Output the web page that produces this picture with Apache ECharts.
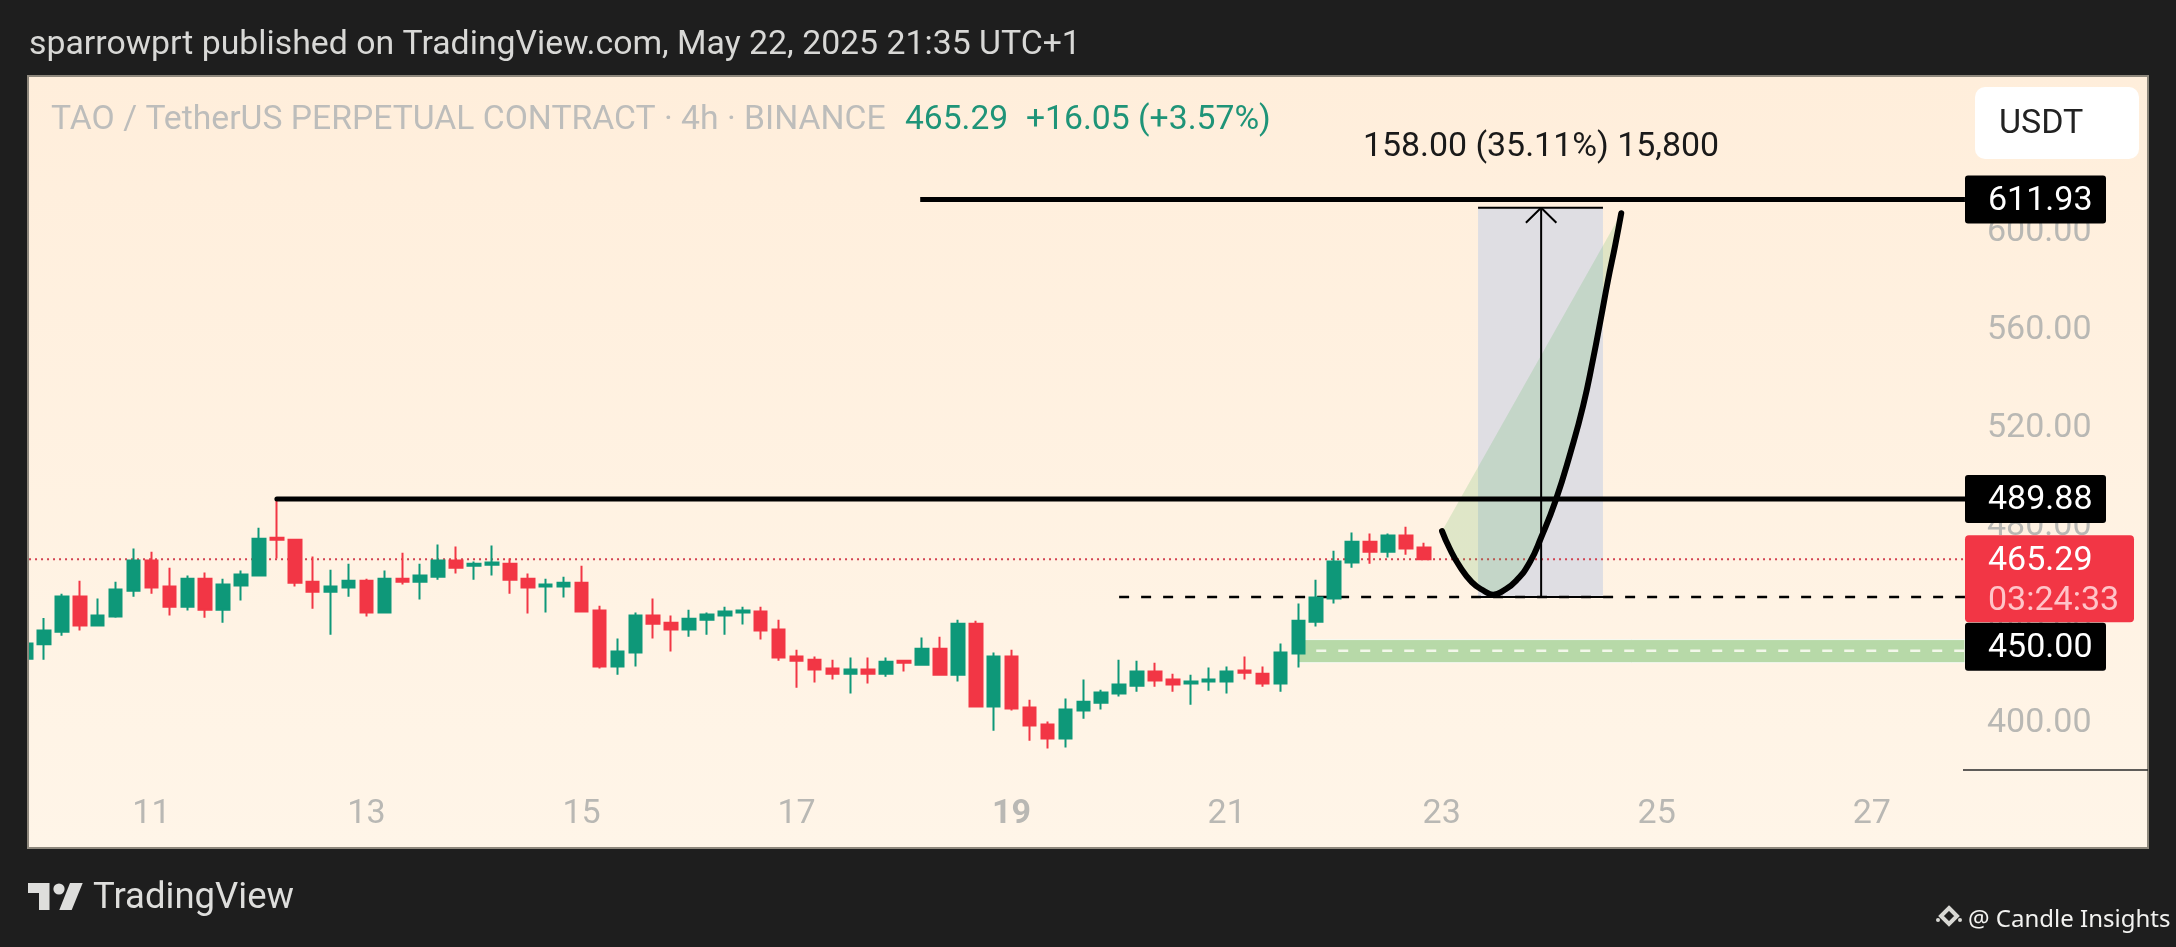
<!DOCTYPE html>
<html><head><meta charset="utf-8">
<style>html,body{margin:0;padding:0;background:#1e1e1e}#c{width:2176px;height:947px}</style>
<script src="https://cdn.jsdelivr.net/npm/echarts@6/dist/echarts.min.js"></script>
</head><body><div id="c"></div>
<script>
var opens=[424.8,430.7,435.8,450.2,438.3,442.0,452.5,464.8,454.2,446.0,457.4,444.8,454.6,458.7,474.1,473.3,456.2,452.1,453.8,456.6,443.6,457.4,456.2,458.2,464.8,462.7,463.1,463.5,457.4,454.2,454.2,455.8,444.4,421.6,427.3,442.4,439.5,436.7,440.7,442.4,443.6,444.0,436.7,425.7,424.4,420.8,418.7,420.4,418.7,424.0,422.4,428.9,418.3,439.1,405.3,425.7,404.9,398.0,392.3,403.7,406.9,410.6,413.8,419.6,416.3,414.7,415.5,415.5,420.0,418.7,414.7,426.9,439.9,449.3,464.0,472.5,468.4,475.0,470.1];
var closes=[431.0,436.3,450.2,438.3,442.4,453.0,464.8,453.8,446.0,457.4,444.8,455.0,459.1,473.7,473.3,455.8,452.1,454.2,456.6,443.6,457.4,456.2,458.7,464.8,461.9,463.5,464.0,457.0,453.8,455.0,455.8,444.0,421.6,427.7,442.4,439.1,436.7,441.1,442.8,444.0,444.4,436.3,425.3,424.0,420.4,418.7,420.4,418.7,423.6,423.2,428.9,418.3,439.1,405.3,425.7,404.5,397.6,392.3,404.1,407.3,411.0,414.3,419.6,415.9,414.3,415.5,416.3,419.6,419.1,414.7,427.3,440.3,449.7,464.4,472.5,468.4,475.0,469.7,465.29];
var lows=[424.8,424.4,434.2,436.3,438.3,441.5,450.1,451.3,442.4,444.4,441.5,439.5,448.5,458.7,465.6,454.2,445.2,434.6,450.1,442.0,443.2,455.0,448.9,457.0,459.5,457.0,458.7,451.3,443.2,443.6,449.7,444.0,420.8,418.3,421.6,433.0,427.7,433.8,434.6,434.6,438.7,432.6,424.0,413.0,415.1,416.3,410.6,414.7,417.5,419.6,422.4,418.3,415.5,405.3,395.5,403.7,391.4,388.2,388.6,400.4,404.1,409.4,411.4,413.4,411.4,406.1,411.8,410.6,416.3,413.4,411.4,421.2,437.9,447.3,461.9,463.5,466.0,467.2,465.29];
var highs=[431.0,441.4,451.3,456.6,449.3,456.2,469.7,468.4,461.9,458.7,459.9,457.4,460.7,478.2,490.0,473.7,466.4,461.1,463.5,457.4,460.7,468.0,463.5,471.3,470.5,464.4,470.9,465.6,459.5,457.4,458.2,462.7,446.4,433.0,443.6,449.3,442.4,444.8,443.6,446.0,446.0,446.0,440.7,428.5,425.7,424.4,425.3,425.3,425.3,424.4,433.4,433.8,440.7,440.3,427.3,428.5,408.1,399.2,408.6,416.3,412.2,424.4,424.0,423.2,418.7,418.3,421.2,421.6,425.7,421.6,431.0,447.3,457.0,468.8,476.2,475.8,475.8,478.6,472.1];
var dayLabels=['11','13','15','17','19','21','23','25','27'];
var priceTicks=[400,440,480,520,560,600];
var curveX=[79.02,79.44,79.99,80.68,81.37,81.87,82.48,83.17,83.91,84.55,85.37,86.2,86.9,87.45,87.87,88.28,88.69,89.02];
var curveY=[476.8,469.8,462.6,456.0,452.4,450.9,452.7,456.7,464.0,474.2,489.5,509.1,528.0,546.9,562.9,578.9,593.5,606.3];
var lastPrice=465.29, resistHigh=611.93, resistMid=489.88, entry=450, target=608.5, zoneTop=432.6, zoneBottom=423.2, zoneMid=428.1, zoneTagPrice=429.7;
var tagTexts=['611.93','489.88','450.00'];

var BAND=17.92, GRID_LEFT=17.04, BANDS=119;
var categories=[];
for(var i=0;i<BANDS;i++){categories.push('');}
dayLabels.forEach(function(d,k){categories[7+12*k]=d;});
var candles=opens.map(function(o,i){return [o,closes[i],lows[i],highs[i]];});
var curve=curveX.map(function(x,i){return [x,curveY[i]];});
var XR=108.2;
function seg(pts,color,width,type,z,cap){
  return {type:'line',xAxisIndex:1,yAxisIndex:0,data:pts,symbol:'none',silent:true,animation:false,z:z,clip:true,
    lineStyle:{color:color,width:width,type:type||'solid',cap:cap||'butt'}};
}
function polygonSeries(pts,fill,z,stroke){
  return {type:'custom',xAxisIndex:1,yAxisIndex:0,z:z,silent:true,animation:false,data:[0],
    encode:{x:[],y:[]},
    renderItem:function(p,api){
      return {type:'polygon',shape:{points:pts.map(function(q){return api.coord(q);})},
        style:{fill:fill,stroke:stroke||null,lineWidth:stroke?1:0}};
    }};
}
function tagSeries(){
  var tags=[{v:resistHigh,t:tagTexts[0]},{v:resistMid,t:tagTexts[1]},{v:zoneTagPrice,t:tagTexts[2]}];
  return {type:'custom',xAxisIndex:1,yAxisIndex:0,z:60,silent:true,animation:false,clip:false,data:tags.map(function(t,i){return i;}),
    encode:{x:[],y:[]},
    renderItem:function(p,api){
      var t=tags[api.value(0)];
      var c=api.coord([XR,t.v]);
      return {type:'group',children:[
        {type:'rect',shape:{x:1965,y:c[1]-24,width:141,height:48,r:3},style:{fill:'#000'}},
        {type:'text',style:{x:1988,y:c[1]+2,text:t.t,fill:'#fff',font:'34px Roboto',verticalAlign:'middle',align:'left'}}
      ]};
    }};
}
function lastTag(){
  return {type:'custom',xAxisIndex:1,yAxisIndex:0,z:59,silent:true,animation:false,clip:false,data:[0],
    encode:{x:[],y:[]},
    renderItem:function(p,api){
      var c=api.coord([XR,lastPrice]);
      return {type:'group',children:[
        {type:'rect',shape:{x:1965,y:c[1]-24,width:169,height:87,r:4},style:{fill:'#F23645'}},
        {type:'text',style:{x:1988,y:c[1]+2,text:lastPrice.toFixed(2),fill:'#fff',font:'34px Roboto',verticalAlign:'middle',align:'left'}},
        {type:'text',style:{x:1988,y:c[1]+42,text:'03:24:33',fill:'#FFC4C8',font:'34px Roboto',verticalAlign:'middle',align:'left'}}
      ]};
    }};
}
var chart=echarts.init(document.getElementById('c'),null,{renderer:'canvas'});
var txt='Roboto';
chart.setOption({
  animation:false,
  backgroundColor:'#1e1e1e',
  grid:{left:GRID_LEFT,top:75.5,width:BAND*BANDS,height:772,containLabel:false},
  xAxis:[{type:'category',data:categories,boundaryGap:true,axisLine:{show:false},axisTick:{show:false},splitLine:{show:false},
      axisLabel:{show:true,interval:0,inside:true,margin:16,color:'#B9B8B4',fontFamily:txt,fontSize:34,
        formatter:function(v){return v==='19'?'{b|19}':v;},rich:{b:{fontWeight:'bold',fontSize:34,color:'#B9B8B4',fontFamily:txt}}}},
    {type:'value',show:false,min:-0.5,max:BANDS-0.5}],
  yAxis:{type:'value',position:'right',min:347.9,max:662.4,splitLine:{show:false},axisLine:{show:false},axisTick:{show:false},
    axisLabel:{inside:true,margin:58,color:'#B9B8B4',fontFamily:txt,fontSize:34,align:'right',customValues:priceTicks,
      formatter:function(v){return '{p|'+v.toFixed(2)+'}';},
      rich:{p:{color:'#B9B8B4',fontFamily:txt,fontSize:34,padding:[7,0,0,0]}}}},
  series:[
    polygonSeries([[71,zoneBottom],[XR,zoneBottom],[XR,zoneTop],[71,zoneTop]],'#B7D9A8',3,'rgba(255,255,255,0.8)'),
    seg([[72,zoneMid],[XR,zoneMid]],'#F3F7EA',2.5,[10,12],4),
    polygonSeries([[81.03,entry],[88,entry],[88,target],[81.03,target]],'#DFDEE3',3),
    seg([[-0.5,lastPrice],[XR,lastPrice]],'#D2404F',2,[2,4],4),
    seg([[61,entry],[XR,entry]],'#000',2.5,[10,12],5),
    {type:'candlestick',xAxisIndex:0,yAxisIndex:0,data:candles,barWidth:13,z:10,silent:true,animation:false,
      itemStyle:{color:'#0E9879',color0:'#F23645',borderColor:'#0E9879',borderColor0:'#F23645',borderWidth:2}},
    polygonSeries(curve,'rgba(76,175,80,0.18)',12),
    seg([[49.9,resistHigh],[XR,resistHigh]],'#000',5,'solid',14),
    seg([[14,resistMid],[XR,resistMid]],'#000',5,'solid',14,'round'),
    seg([[80.7,entry],[88.5,entry]],'#000',2,'solid',15),
    seg([[81.03,target],[88,target]],'#000',2,'solid',15),
    seg([[84.55,entry],[84.55,target]],'#000',2,'solid',15),
    seg([[83.7,target-6.1],[84.55,target],[85.4,target-6.1]],'#000',2,'solid',15),
    Object.assign(seg(curve,'#000',6,'solid',16,'round'),{smooth:true,clip:false}),
    lastTag(),
    tagSeries()
  ],
  graphic:[
    {type:'rect',z:-10,silent:true,shape:{x:28,y:76,width:2120,height:772},
      style:{stroke:'#8d877c',lineWidth:2,fill:{type:'linear',x:0,y:0,x2:0,y2:1,colorStops:[{offset:0,color:'#FFEEDB'},{offset:1,color:'#FFF5E8'}]}}},
    {type:'rect',z:30,silent:true,shape:{x:0,y:70,width:27,height:785},style:{fill:'#1e1e1e'}},
    {type:'rect',z:30,silent:true,shape:{x:27,y:76,width:2,height:772},style:{fill:'#8d877c'}},
    {type:'line',z:30,silent:true,shape:{x1:1963,y1:770,x2:2148,y2:770},style:{stroke:'#2a2a2a',lineWidth:1.5}},
    {type:'text',z:40,silent:true,style:{x:29,y:46,text:'sparrowprt published on TradingView.com, May 22, 2025 21:35 UTC+1',fill:'#D8D8D6',font:'33.8px Roboto',verticalAlign:'middle'}},
    {type:'text',z:40,silent:true,style:{x:51,y:121,text:'TAO / TetherUS PERPETUAL CONTRACT · 4h · BINANCE',fill:'#BDBDBB',font:'33.7px Roboto',verticalAlign:'middle'}},
    {type:'text',z:40,silent:true,style:{x:905,y:121,text:'465.29',fill:'#1F9478',font:'33.6px Roboto',verticalAlign:'middle'}},
    {type:'text',z:40,silent:true,style:{x:1026,y:121,text:'+16.05 (+3.57%)',fill:'#1F9478',font:'33.7px Roboto',verticalAlign:'middle'}},
    {type:'text',z:40,silent:true,style:{x:1541,y:148,text:'158.00 (35.11%) 15,800',fill:'#1a1a1a',font:'33.9px Roboto',align:'center',verticalAlign:'middle'}},
    {type:'rect',z:40,silent:true,shape:{x:1975,y:87,width:164,height:72,r:10},style:{fill:'#fff'}},
    {type:'text',z:41,silent:true,style:{x:1999,y:124,text:'USDT',fill:'#222',font:'34px Roboto',verticalAlign:'middle'}},
    {type:'polygon',z:40,silent:true,shape:{points:[[28,883],[49.5,883],[49.5,910],[39,910],[39,893],[28,893]]},style:{fill:'#DEDEDC'}},
    {type:'circle',z:40,silent:true,shape:{cx:59,cy:889,r:5.6},style:{fill:'#DEDEDC'}},
    {type:'polygon',z:40,silent:true,shape:{points:[[70,883],[82.7,883],[71.7,910],[59.3,910]]},style:{fill:'#DEDEDC'}},
    {type:'text',z:40,silent:true,style:{x:93,y:899,text:'TradingView',fill:'#DEDEDC',font:'36.5px Roboto',verticalAlign:'middle'}},
    {type:'polygon',z:40,silent:true,shape:{points:[[1949,908],[1957,916],[1949,924],[1941,916]]},style:{fill:'none',stroke:'#D8D8D4',lineWidth:4}},
    {type:'circle',z:40,silent:true,shape:{cx:1938,cy:920,r:2},style:{fill:'#D8D8D4'}},
    {type:'circle',z:40,silent:true,shape:{cx:1960,cy:920,r:2},style:{fill:'#D8D8D4'}},
    {type:'text',z:40,silent:true,style:{x:1968,y:920,text:'@ Candle Insights',fill:'#F2F2F0',font:'24px "Noto Sans"',verticalAlign:'middle'}}
  ]
});
</script></body></html>
